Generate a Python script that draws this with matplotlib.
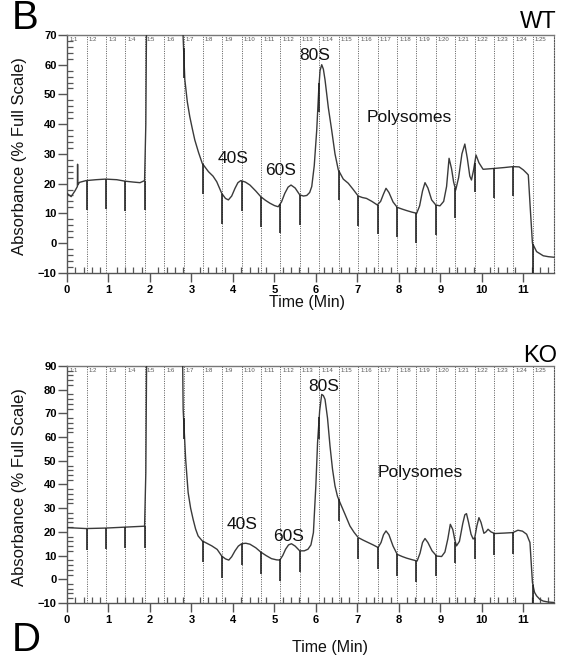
import numpy as np
import matplotlib
matplotlib.use("Agg")
import matplotlib.pyplot as plt
from matplotlib.ticker import MultipleLocator

plt.rcParams['font.family'] = ['Liberation Sans', 'DejaVu Sans']

# fraction collector boundaries (min) and labels
frac_start = [0.0, 0.47, 0.94, 1.40, 1.87, 2.34, 2.81, 3.27, 3.74, 4.21, 4.68, 5.14,
              5.61, 6.08, 6.55, 7.02, 7.49, 7.96, 8.42, 8.89, 9.36, 9.83, 10.30, 10.76, 11.23]
frac_labels = ['1:%d' % (i + 1) for i in range(len(frac_start))]

# WT trace (values above 70 are off scale)
wt_time = [0.00, 0.10, 0.19, 0.25, 0.255, 0.26, 0.30, 0.46, 0.70, 0.93, 1.20, 1.40, 1.60,
           1.76, 1.87, 1.90, 1.93, 2.76, 2.80, 2.84, 2.90, 2.96, 3.02, 3.08, 3.17, 3.26,
           3.41, 3.52, 3.61, 3.73, 3.82, 3.89, 3.97, 4.05, 4.12, 4.19, 4.30, 4.41, 4.55,
           4.67, 4.78, 4.89, 5.00, 5.09, 5.17, 5.25, 5.33, 5.40, 5.50, 5.61, 5.70, 5.78,
           5.85, 5.90, 5.96, 6.02, 6.07, 6.10, 6.14, 6.18, 6.22, 6.30, 6.38, 6.46, 6.54,
           6.66, 6.78, 6.90, 7.02, 7.12, 7.22, 7.35, 7.48, 7.56, 7.63, 7.69, 7.76, 7.86,
           7.96, 8.08, 8.19, 8.31, 8.43, 8.50, 8.57, 8.63, 8.70, 8.79, 8.89, 8.99, 9.08,
           9.15, 9.21, 9.27, 9.32, 9.37, 9.44, 9.52, 9.59, 9.65, 9.71, 9.75, 9.80, 9.86,
           9.93, 10.03, 10.31, 10.55, 10.75, 10.90, 11.00, 11.08, 11.12, 11.17, 11.22,
           11.32, 11.48, 11.60, 11.74]
wt_abs = [16.7, 15.6, 17.5, 19.0, 26.5, 19.5, 20.4, 21.0, 21.3, 21.5, 21.3, 20.8, 20.5,
          20.3, 21.0, 40.0, 100.0, 100.0, 69.0, 55.0, 47.5, 42.5, 38.5, 34.7, 30.5, 26.8,
          24.0, 22.5, 20.6, 16.7, 15.0, 14.5, 15.8, 18.4, 20.3, 21.0, 20.5, 19.5, 17.5,
          15.6, 14.4, 13.4, 12.6, 12.2, 13.8, 16.7, 18.8, 19.5, 18.5, 16.2, 15.8, 16.0,
          17.0, 19.0, 26.0, 38.0, 52.0, 58.0, 60.0, 58.5, 54.9, 45.5, 38.0, 30.0, 24.6,
          21.5, 20.1, 18.0, 15.8, 15.3, 15.0, 14.0, 12.8, 14.0, 16.5, 18.4, 17.0, 13.8,
          12.0, 11.4, 10.9, 10.4, 10.0, 12.5, 17.5, 20.3, 18.5, 14.5, 12.8, 12.5, 14.0,
          19.0, 28.5, 25.0, 20.5, 17.8, 22.0, 30.0, 33.3, 28.5, 22.5, 21.2, 24.5, 29.6,
          27.0, 24.8, 25.1, 25.4, 25.7, 25.6, 24.6, 23.5, 22.9, 11.1, -0.1, -2.9, -4.3,
          -4.6, -4.8]

# KO trace (values above 90 are off scale)
ko_time = [0.00, 0.46, 0.93, 1.40, 1.87, 1.90, 1.93, 2.77, 2.80, 2.86, 2.92, 2.98, 3.04,
           3.10, 3.16, 3.26, 3.37, 3.49, 3.62, 3.73, 3.82, 3.90, 3.97, 4.05, 4.13, 4.21,
           4.31, 4.41, 4.55, 4.67, 4.80, 4.93, 5.05, 5.13, 5.20, 5.27, 5.34, 5.41, 5.50,
           5.61, 5.72, 5.81, 5.88, 5.94, 6.00, 6.04, 6.09, 6.14, 6.18, 6.22, 6.28, 6.34,
           6.40, 6.46, 6.52, 6.58, 6.70, 6.82, 6.92, 7.02, 7.14, 7.26, 7.38, 7.50, 7.57,
           7.63, 7.69, 7.76, 7.86, 7.96, 8.08, 8.19, 8.31, 8.44, 8.51, 8.57, 8.63, 8.70,
           8.80, 8.91, 9.03, 9.11, 9.18, 9.24, 9.30, 9.35, 9.39, 9.46, 9.54, 9.59, 9.63,
           9.68, 9.74, 9.79, 9.83, 9.88, 9.93, 9.98, 10.05, 10.10, 10.15, 10.22, 10.31,
           10.55, 10.75, 10.87, 10.98, 11.08, 11.16, 11.22, 11.27, 11.32, 11.40, 11.48,
           11.60, 11.74]
ko_abs = [21.8, 21.4, 21.6, 22.0, 22.4, 45.0, 120.0, 120.0, 71.7, 50.6, 36.6, 30.0, 25.3,
          21.2, 18.3, 16.2, 15.2, 14.1, 12.6, 9.8, 8.6, 8.1, 9.5, 12.0, 14.0, 15.0, 15.2,
          14.8, 13.3, 11.5, 10.0, 8.7, 8.2, 8.1, 10.0, 12.7, 14.5, 15.0, 14.0, 12.0, 12.0,
          12.7, 14.5, 19.7, 40.0, 57.7, 71.0, 78.0, 77.5, 75.9, 68.0, 56.2, 46.5, 39.4,
          35.0, 32.4, 27.5, 22.5, 19.8, 17.6, 16.5, 15.5, 14.5, 13.4, 15.5, 18.8, 20.4,
          18.8, 14.0, 10.5, 9.6, 8.9, 8.3, 7.7, 11.0, 15.5, 17.2, 15.5, 12.0, 9.8, 9.6,
          11.5, 17.0, 23.2, 21.0, 16.5, 14.1, 16.0, 23.5, 27.2, 27.7, 24.0, 19.0, 17.0,
          17.6, 22.5, 26.0, 24.0, 19.4, 20.0, 21.1, 20.0, 19.3, 19.5, 19.7, 20.7, 20.3,
          19.0, 15.5, -1.4, -5.5, -7.0, -8.5, -9.2, -9.6, -9.8]

panels = [
    dict(time=wt_time, absb=wt_abs, ymax=70, drop=10, rect=[0.1188, 0.5868, 0.8635, 0.3602],
         tag='WT', tag_y=0.957, letter='B', letter_y=0.956, letter_va='baseline',
         labels=[('40S', 4.01, 26.8, 'center'), ('60S', 5.15, 22.9, 'center'),
                 ('80S', 5.96, 61.6, 'center'), ('Polysomes', 7.23, 40.8, 'left')],
         xlab=(0.493, -0.127)),
    dict(time=ko_time, absb=ko_abs, ymax=90, drop=9, rect=[0.1188, 0.0864, 0.8635, 0.3591],
         tag='KO', tag_y=0.452, letter='D', letter_y=0.001, letter_va='bottom',
         labels=[('40S', 4.23, 21.1, 'center'), ('60S', 5.34, 16.2, 'center'),
                 ('80S', 6.19, 79.4, 'center'), ('Polysomes', 7.48, 43.0, 'left')],
         xlab=(0.54, -0.186)),
]

xmax = 11.74
fig = plt.figure(figsize=(5.64, 6.6), dpi=100)

for p in panels:
    ax = fig.add_axes(p['rect'])
    ax.set_xlim(0, xmax)
    ax.set_ylim(-10, p['ymax'])

    # fraction boundaries
    for xb in frac_start[1:]:
        ax.axvline(xb, color='#555555', lw=0.7, ls=(0, (1, 1.4)), zorder=1)
    for xb, lab in zip(frac_start, frac_labels):
        ax.text(xb + 0.05, 0.992, lab, transform=ax.get_xaxis_transform(),
                fontsize=4.3, color='#555555', ha='left', va='top')

    # trace
    ax.plot(p['time'], p['absb'], color='#3a3a3a', lw=1.0, zorder=3)

    # fraction event marks
    for xb in frac_start[1:]:
        v = np.interp(xb, p['time'], p['absb'])
        if v < p['ymax'] - 3:
            ax.vlines(xb, v - p['drop'], v, color='#222222', lw=1.2, zorder=4)

    for txt, tx, ty, ha in p['labels']:
        ax.text(tx, ty, txt, fontsize=12.5, ha=ha, va='baseline', color='#111111')

    for side in ['left', 'bottom']:
        ax.spines[side].set_color('#555555')
        ax.spines[side].set_linewidth(1.0)
    ax.spines['top'].set_color('#777777')
    ax.spines['top'].set_linewidth(1.0)
    ax.spines['right'].set_color('#555555')
    ax.spines['right'].set_linestyle((0, (1, 1.4)))
    ax.spines['right'].set_linewidth(0.8)

    ax.xaxis.set_major_locator(MultipleLocator(1))
    ax.xaxis.set_minor_locator(MultipleLocator(0.2))
    ax.yaxis.set_major_locator(MultipleLocator(10))
    ax.yaxis.set_minor_locator(MultipleLocator(2))
    ax.tick_params(axis='both', which='major', direction='out', length=6.3, width=1.0,
                   color='#555555', labelsize=8)
    ax.tick_params(axis='x', which='major', pad=2.2)
    ax.tick_params(axis='y', which='major', pad=1.2)
    ax.tick_params(axis='both', which='minor', direction='in', length=4.3, width=0.9,
                   color='#555555')
    for lab in ax.get_xticklabels() + ax.get_yticklabels():
        lab.set_fontweight('bold')

    ax.set_ylabel('Absorbance (% Full Scale)', fontsize=12, color='#111111')
    ax.yaxis.set_label_coords(-0.082, 0.49)
    ax.set_xlabel('Time (Min)', fontsize=11.5, color='#111111')
    ax.xaxis.label.set_va('center')
    ax.xaxis.set_label_coords(*p['xlab'])

    fig.text(0.987, p['tag_y'], p['tag'], fontsize=17, ha='right', va='baseline')
    fig.text(0.021, p['letter_y'], p['letter'], fontsize=29, ha='left', va=p['letter_va'])

fig.savefig('out.png', dpi=100)
